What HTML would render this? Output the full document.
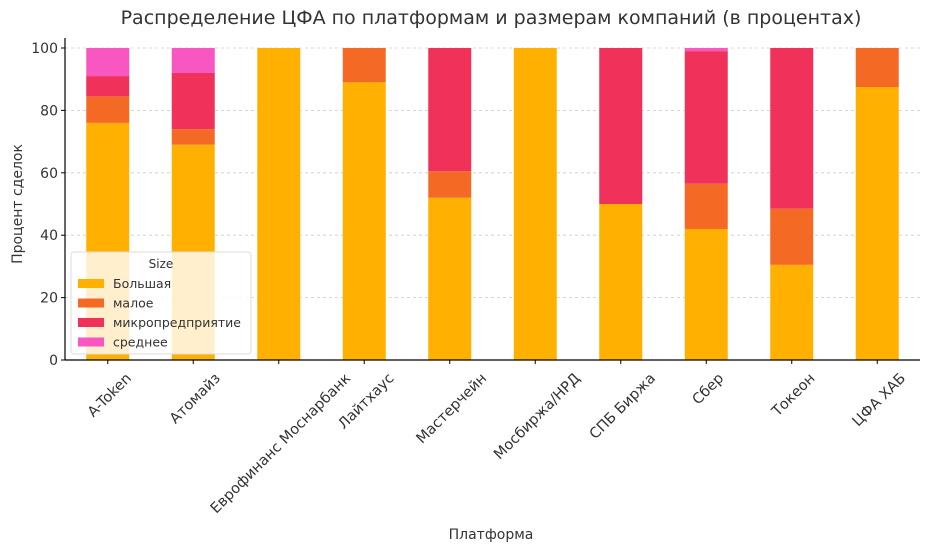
<!DOCTYPE html>
<html><head><meta charset="utf-8"><style>
body{margin:0;background:#fff;width:928px;height:552px;overflow:hidden}
text{font-family:"DejaVu Sans","Liberation Sans",sans-serif;fill:#333}
</style></head><body>
<svg id="c" width="928" height="552"></svg>
<script>
const categories=["A-Token","Атомайз","Еврофинанс Моснарбанк","Лайтхаус","Мастерчейн","Мосбиржа/НРД","СПБ Биржа","Сбер","Токеон","ЦФА ХАБ"];
const seriesNames=["Большая","малое","микропредприятие","среднее"];
const bolshaya=[76,69,100,89,52,100,50,42,30.5,87.5];
const maloe=[8.5,5,0,11,8.5,0,0,14.5,18,12.5];
const mikro=[6.5,18,0,0,39.5,0,50,42.5,51.5,0];
const srednee=[9,8,0,0,0,0,0,1,0,0];
const yTicks=[0,20,40,60,80,100];
const colors=["#FFB000","#F46A25","#F0325A","#F857C1"];
const series=[bolshaya,maloe,mikro,srednee];
const NS="http://www.w3.org/2000/svg";
const svg=document.getElementById('c');
const L=65,R=920,T=48,B=360;
const step=(R-L)/categories.length;
const x=i=>L+step*(i+0.5);
const y=v=>B-(B-T)*v/100;
function mk(tag,a,p){const e=document.createElementNS(NS,tag);for(const k in a)e.setAttribute(k,a[k]);(p||svg).appendChild(e);return e;}
let t=mk('text',{x:491,y:24,'font-size':19,'text-anchor':'middle'});t.textContent="Распределение ЦФА по платформам и размерам компаний (в процентах)";

yTicks.forEach(v=>{
 let g=mk('line',{x1:L,x2:R,y1:y(v),y2:y(v),stroke:'#ccc','stroke-dasharray':'3,3','stroke-width':0.8});
 
 mk('line',{x1:L-4,x2:L,y1:y(v),y2:y(v),stroke:'#000'});
 let tt=mk('text',{x:L-7,y:y(v)+5,'font-size':14,'text-anchor':'end'});tt.textContent=v;
 
});
categories.forEach((c,i)=>{
 let acc=0;
 series.forEach((s,k)=>{
  if(s[i]>0){let r=mk('rect',{x:x(i)-21.5,width:43,y:y(acc+s[i]),height:y(acc)-y(acc+s[i]),fill:colors[k]});
  }
  acc+=s[i];
 });
 mk('line',{x1:x(i),x2:x(i),y1:B,y2:B+4,stroke:'#000'});
 let lt=mk('text',{x:0,y:0,'font-size':14.5,'text-anchor':'end'});lt.textContent=c;
 const w=lt.getComputedTextLength()*0.7071;
 const ex=x(i)+w/2+5, ey=B+19;
 lt.setAttribute('x',ex);lt.setAttribute('y',ey);
 lt.setAttribute('transform',`rotate(-45 ${ex} ${ey})`);
 
});
mk('line',{x1:L,x2:L,y1:T-10,y2:B,stroke:'#000','stroke-width':1.2});
mk('line',{x1:L,x2:R,y1:B,y2:B,stroke:'#000','stroke-width':1.2});
let xl=mk('text',{x:491,y:539,'font-size':14,'text-anchor':'middle'});xl.textContent="Платформа";

let yl=mk('text',{x:22,y:204,'font-size':14,'text-anchor':'middle',transform:'rotate(-90 22 204)'});yl.textContent="Процент сделок";

const lg=mk('g',{});

mk('rect',{x:71,y:252,width:180,height:102,rx:3,fill:'rgba(255,255,255,0.8)',stroke:'#ddd'},lg);
let st=mk('text',{x:161,y:268,'font-size':12,'text-anchor':'middle'},lg);st.textContent="Size";
seriesNames.forEach((n,k)=>{
 const yy=283+k*19.5;
 let sw=mk('rect',{x:78,y:yy-4,width:26,height:9,fill:colors[k]},lg);
 
 let tx=mk('text',{x:113,y:yy+5,'font-size':12.5},lg);tx.textContent=n;
 
});
</script>
</body></html>
